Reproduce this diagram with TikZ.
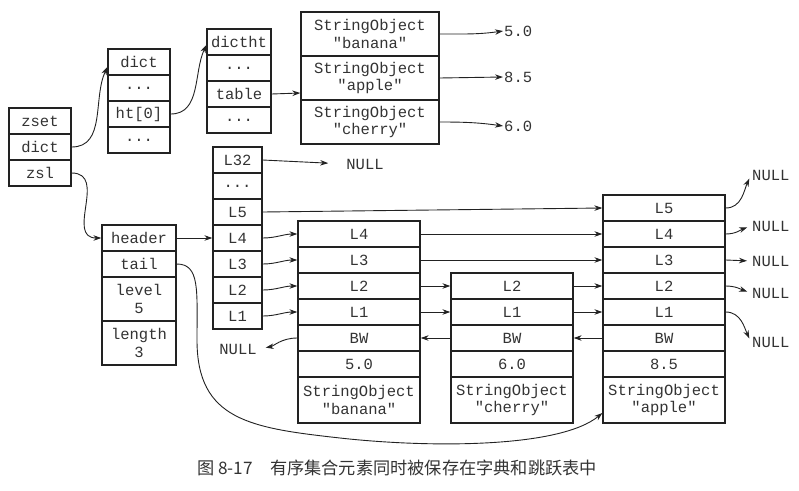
\documentclass[tikz,border=0pt]{standalone}
\usepackage{fontspec}
\newfontfamily\monof{Liberation Mono}
\newfontfamily\cjk{Noto Sans CJK SC}
\usetikzlibrary{arrows.meta}
\definecolor{ink}{HTML}{222222}
\definecolor{txt}{HTML}{333333}
\begin{document}
\begin{tikzpicture}[x=1pt,y=1pt,
  cell/.style={draw=ink, line width=1.3pt, rectangle, inner sep=0pt,
    font=\monof\fontsize{15.5}{17.5}\selectfont, text=txt, align=center,
    minimum height=26pt},
  tall/.style={minimum height=44pt},
  arr/.style={draw=ink, line width=0.9pt, -{Stealth[length=8pt,width=5.5pt]}},
  lbl/.style={font=\monof\fontsize{15.5}{17.5}\selectfont, text=txt, inner sep=1pt}
]
\useasboundingbox (0,0) rectangle (799,-490);
% zset
\begin{scope}[every node/.append style={cell, minimum width=62pt}]
\node (zset) at (40,-121) {zset};
\node (zdict) at (40,-147) {dict};
\node (zsl) at (40,-173) {zsl};
% dict
\node (dtitle) at (139,-62) {dict};
\node (ddotsA) at (139,-88) {...};
\node (dht) at (139,-114) {ht[0]};
\node (ddotsB) at (139,-140) {...};
\end{scope}
% dictht
\begin{scope}[every node/.append style={cell, minimum width=64pt}]
\node (htitle) at (239,-42) {dictht};
\node (hdotsA) at (239,-68) {...};
\node (htable) at (239,-94) {table};
\node (hdotsB) at (239,-120) {...};
\end{scope}
% string objects
\begin{scope}[every node/.append style={cell, tall, minimum width=138pt}]
\node (soB) at (370,-34) {StringObject\\"banana"};
\node (soA) at (370,-78) {StringObject\\"apple"};
\node (soC) at (370,-122) {StringObject\\"cherry"};
\end{scope}
\node[lbl, anchor=west] (v50) at (503,-31) {5.0};
\node[lbl, anchor=west] (v85) at (503,-77) {8.5};
\node[lbl, anchor=west] (v60) at (503,-126) {6.0};
% zskiplist
\begin{scope}[every node/.append style={cell, minimum width=74pt}]
\node (header) at (139,-238) {header};
\node (tail) at (139,-264) {tail};
\node[tall] (level) at (139,-299) {level\\5};
\node[tall] (length) at (139,-343) {length\\3};
\end{scope}
% header levels
\begin{scope}[every node/.append style={cell, minimum width=49pt}]
\node (L32) at (237.5,-160) {L32};
\node (Ldots) at (237.5,-186) {...};
\node (L5) at (237.5,-212) {L5};
\node (L4) at (237.5,-238) {L4};
\node (L3) at (237.5,-264) {L3};
\node (L2) at (237.5,-290) {L2};
\node (L1) at (237.5,-316) {L1};
\end{scope}
% banana node
\begin{scope}[every node/.append style={cell, minimum width=122pt}]
\node (bL4) at (359,-234) {L4};
\node (bL3) at (359,-260) {L3};
\node (bL2) at (359,-286) {L2};
\node (bL1) at (359,-312) {L1};
\node (bBW) at (359,-338) {BW};
\node (bSc) at (359,-364) {5.0};
\node[minimum height=46pt] (bSO) at (359,-400) {StringObject\\"banana"};
% cherry node
\node (cL2) at (512,-286) {L2};
\node (cL1) at (512,-312) {L1};
\node (cBW) at (512,-338) {BW};
\node (cSc) at (512,-364) {6.0};
\node[minimum height=46pt] (cSO) at (512,-400) {StringObject\\"cherry"};
% apple node
\node (aL5) at (664,-208) {L5};
\node (aL4) at (664,-234) {L4};
\node (aL3) at (664,-260) {L3};
\node (aL2) at (664,-286) {L2};
\node (aL1) at (664,-312) {L1};
\node (aBW) at (664,-338) {BW};
\node (aSc) at (664,-364) {8.5};
\node[minimum height=46pt] (aSO) at (664,-400) {StringObject\\"apple"};
\end{scope}
% NULL labels
\node[lbl] (n32) at (365,-164) {NULL};
\node[lbl] (nBW) at (238,-349) {NULL};
\node[lbl, anchor=west] (nR5) at (751,-175) {NULL};
\node[lbl, anchor=west] (nR4) at (751,-226) {NULL};
\node[lbl, anchor=west] (nR3) at (751,-261) {NULL};
\node[lbl, anchor=west] (nR2) at (751,-293) {NULL};
\node[lbl, anchor=west] (nR1) at (751,-342) {NULL};
% dict connectors
\draw[arr] (zdict.east) to[out=0,in=-115] ([yshift=-5pt]dtitle.west);
\draw[arr] (dht.east) to[out=0,in=-115] ([yshift=-3pt]htitle.west);
\draw[arr] (htable.east) -- ([yshift=-15pt]soA.west);
\draw[arr] (soB.east) to[out=0,in=188] (v50.west);
\draw[arr] (soA.east) -- (v85.west);
\draw[arr] (soC.east) to[out=0,in=172] (v60.west);
% skiplist connectors
\draw[arr] (zsl.east) to[out=0,in=180,looseness=1.3] (header.west);
\draw[arr] (header.east) -- (L4.west);
\draw[arr, shorten >=17pt] (L32.east) -- (n32.west);
\draw[arr] (L5.east) -- (aL5.west);
\draw[arr] (L4.east) to[out=0,in=180] (bL4.west);
\draw[arr] (L3.east) to[out=0,in=180] (bL3.west);
\draw[arr] (L2.east) to[out=0,in=180] (bL2.west);
\draw[arr] (L1.east) to[out=0,in=180] (bL1.west);
\draw[arr] (bL4.east) -- (aL4.west);
\draw[arr] (bL3.east) -- (aL3.west);
\draw[arr] (bL2.east) -- (cL2.west);
\draw[arr] (bL1.east) -- (cL1.west);
\draw[arr] (cL2.east) -- (aL2.west);
\draw[arr] (cL1.east) -- (aL1.west);
\draw[arr] (aBW.west) -- (cBW.east);
\draw[arr] (cBW.west) -- (bBW.east);
\draw[arr, shorten >=8pt] (bBW.west) to[out=180,in=10] (nBW.east);
\draw[arr, shorten >=4pt] (aL5.east) to[out=0,in=-115] (nR5.west);
\draw[arr, shorten >=4pt] (aL4.east) to[out=0,in=200] (nR4.west);
\draw[arr, shorten >=4pt] (aL3.east) -- (nR3.west);
\draw[arr, shorten >=4pt] (aL2.east) to[out=0,in=160] (nR2.west);
\draw[arr, shorten >=4pt] (aL1.east) to[out=0,in=115] (nR1.west);
\draw[arr] (tail.east) .. controls (200,-264) and (197,-290) .. (197,-340)
  .. controls (197,-420) and (250,-428) .. (340,-438)
  .. controls (430,-448) and (560,-448) .. ([yshift=-13pt]aSO.west);
% caption
\node[font=\cjk\fontsize{17.2}{19}\selectfont, text=txt] (cap) at (397,-468)
  {图 8-17\quad 有序集合元素同时被保存在字典和跳跃表中};
\end{tikzpicture}
\end{document}
